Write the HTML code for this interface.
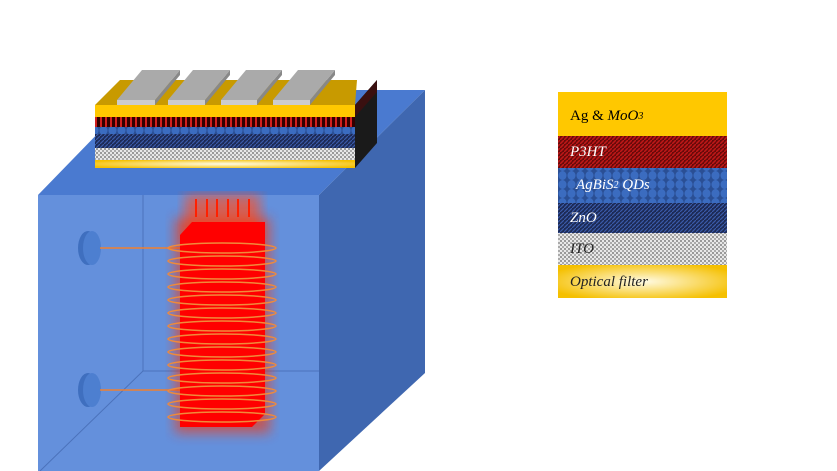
<!DOCTYPE html>
<html><head><style>
body{margin:0;width:837px;height:471px;background:#fff;overflow:hidden;font-family:"Liberation Serif",serif}
.r{position:absolute;left:558px;width:169px;font-style:italic;font-size:15px;box-sizing:border-box;padding-left:12px;display:flex;align-items:center}
</style></head><body>
<svg width="837" height="471" style="position:absolute;left:0;top:0">
<defs>
<pattern id="red" width="4" height="4" patternUnits="userSpaceOnUse"><rect width="4" height="4" fill="#6a0a0a"/><path d="M0 4L4 0" stroke="#c01818" stroke-width="1.5"/></pattern>
<pattern id="navy" width="4" height="4" patternUnits="userSpaceOnUse"><rect width="4" height="4" fill="#1c2a55"/><path d="M0 4L4 0" stroke="#3a5aa8" stroke-width="1.2"/></pattern>
<pattern id="ito" width="4" height="4" patternUnits="userSpaceOnUse"><rect width="4" height="4" fill="#e8e8e8"/><rect width="2" height="2" fill="#999"/><rect x="2" y="2" width="2" height="2" fill="#aaa"/></pattern>
<pattern id="qd" width="9" height="9" patternUnits="userSpaceOnUse"><rect width="9" height="9" fill="#2a4f95"/><ellipse cx="4.5" cy="4.5" rx="4" ry="4.5" fill="#3b6cc0"/></pattern>
<pattern id="vred" width="5" height="10" patternUnits="userSpaceOnUse"><rect width="5" height="10" fill="#300"/><rect width="2" height="10" fill="#d02020"/></pattern>
<radialGradient id="filt" cx="0.5" cy="0.5" r="0.6"><stop offset="0" stop-color="#fffbe6"/><stop offset="1" stop-color="#f5c000"/></radialGradient>
<filter id="blur"><feGaussianBlur stdDeviation="6"/></filter>
</defs>
<polygon points="38,195 319,195 425,90 140,90" fill="#4a7ad0"/>
<polygon points="319,195 425,90 425,373 319,471" fill="#3f67b0"/>
<rect x="38" y="195" width="281" height="276" fill="#6490dc"/>
<line x1="143" y1="195" x2="143" y2="371" stroke="#4b72bb"/>
<line x1="143" y1="371" x2="319" y2="371" stroke="#4b72bb"/>
<line x1="143" y1="371" x2="40" y2="471" stroke="#4b72bb"/>
<g fill="#3f6fbf"><ellipse cx="88" cy="248" rx="10" ry="17"/><ellipse cx="88" cy="390" rx="10" ry="17"/></g>
<g fill="#4d7fd0"><ellipse cx="92" cy="248" rx="9" ry="17"/><ellipse cx="92" cy="390" rx="9" ry="17"/></g>
<line x1="100" y1="248" x2="180" y2="248" stroke="#f08030" stroke-width="1.5"/>
<line x1="100" y1="390" x2="180" y2="390" stroke="#f08030" stroke-width="1.5"/>
<rect x="185" y="195" width="75" height="40" fill="#ff5020" opacity="0.7" filter="url(#blur)"/>
<rect x="175" y="218" width="95" height="215" fill="#ff3000" opacity="0.6" filter="url(#blur)"/>
<g stroke="#ff2000" stroke-width="2"><line x1="196" y1="199" x2="196" y2="217"/><line x1="207" y1="199" x2="207" y2="217"/><line x1="217" y1="199" x2="217" y2="217"/><line x1="228" y1="199" x2="228" y2="217"/><line x1="238" y1="199" x2="238" y2="217"/><line x1="249" y1="199" x2="249" y2="217"/></g>
<polygon points="192,222 265,222 265,414 252,427 180,427 180,235" fill="#ff0000"/>
<g fill="none" stroke="#f08a3a" stroke-width="1.5">
<ellipse cx="222" cy="248" rx="54" ry="5"/><ellipse cx="222" cy="261" rx="54" ry="5"/><ellipse cx="222" cy="274" rx="54" ry="5"/><ellipse cx="222" cy="287" rx="54" ry="5"/><ellipse cx="222" cy="300" rx="54" ry="5"/><ellipse cx="222" cy="313" rx="54" ry="5"/><ellipse cx="222" cy="326" rx="54" ry="5"/><ellipse cx="222" cy="339" rx="54" ry="5"/><ellipse cx="222" cy="352" rx="54" ry="5"/><ellipse cx="222" cy="365" rx="54" ry="5"/><ellipse cx="222" cy="378" rx="54" ry="5"/><ellipse cx="222" cy="391" rx="54" ry="5"/><ellipse cx="222" cy="404" rx="54" ry="5"/><ellipse cx="222" cy="417" rx="54" ry="5"/></g>
<polygon points="95,105 355,105 357,80 120,80" fill="#c89a00"/>
<polygon points="355,105 377,80 377,143 355,168" fill="#1a1a1a"/>
<polygon points="355,105 377,80 377,92 355,117" fill="#3a1010"/>
<g fill="#888"><polygon points="155,105 155,100 180,70 180,75"/><polygon points="205,105 205,100 230,70 230,75"/><polygon points="257,105 257,100 282,70 282,75"/><polygon points="310,105 310,100 335,70 335,75"/></g>
<g fill="#aaa"><polygon points="117,100 155,100 180,70 142,70"/><polygon points="168,100 205,100 230,70 193,70"/><polygon points="221,100 257,100 282,70 246,70"/><polygon points="273,100 310,100 335,70 298,70"/></g>
<g fill="#ccc"><rect x="117" y="100" width="38" height="5"/><rect x="168" y="100" width="37" height="5"/><rect x="221" y="100" width="36" height="5"/><rect x="273" y="100" width="37" height="5"/></g>
<rect x="95" y="105" width="260" height="12" fill="#ffc800"/>
<rect x="95" y="117" width="260" height="10" fill="url(#vred)"/>
<rect x="95" y="127" width="260" height="7" fill="url(#qd)"/>
<rect x="95" y="134" width="260" height="14" fill="url(#navy)"/>
<rect x="95" y="148" width="260" height="12" fill="url(#ito)"/>
<rect x="95" y="160" width="260" height="8" fill="url(#filt)"/>
<rect x="558" y="92" width="169" height="44" fill="#ffc800"/>
<rect x="558" y="136" width="169" height="32" fill="url(#red)"/>
<rect x="558" y="168" width="169" height="35" fill="url(#qd)"/>
<rect x="558" y="203" width="169" height="30" fill="url(#navy)"/>
<rect x="558" y="233" width="169" height="32" fill="url(#ito)"/>
<rect x="558" y="265" width="169" height="33" fill="url(#filt)"/>
</svg>
<div class="r" style="top:92px;height:48px;font-style:normal;font-size:15px">Ag &amp;&nbsp;<i>MoO</i><sub style="font-size:10px;font-style:italic">3</sub></div>
<div class="r" style="top:136px;height:32px;color:#fff">P3HT</div>
<div class="r" style="top:168px;height:35px;color:#fff;padding-left:18px">AgBiS<sub style="font-size:10px">2</sub>&nbsp;QDs</div>
<div class="r" style="top:203px;height:30px;color:#fff">ZnO</div>
<div class="r" style="top:233px;height:32px;color:#222">ITO</div>
<div class="r" style="top:265px;height:35px;color:#222">Optical filter</div>
</body></html>
